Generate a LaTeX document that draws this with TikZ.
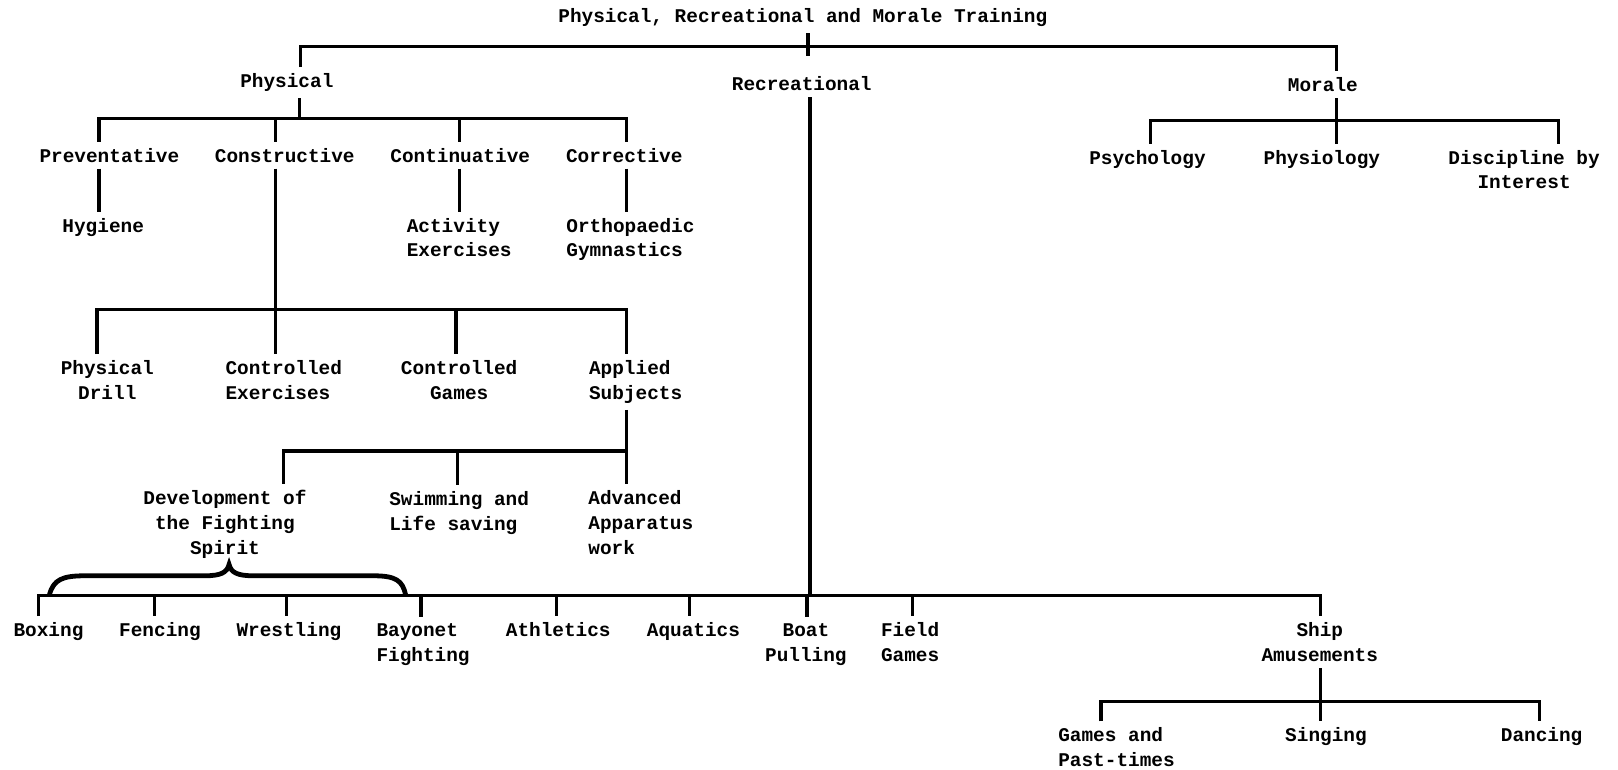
\documentclass[tikz,border=0pt]{standalone}
\usepackage{fontspec}
\newfontfamily\typew{Liberation Mono}
\begin{document}
\begin{tikzpicture}[x=0.516pt,y=-0.516pt,
  lbl/.style={font=\typew\bfseries\fontsize{9.7}{12.4}\selectfont, anchor=base,
              inner xsep=0pt, inner ysep=3pt, align=center},
  lbll/.style={lbl, align=left},
  link/.style={line width=1.6pt},
  bracepath/.style={line width=2.4pt, line cap=round}]
\useasboundingbox (0,0) rectangle (1568,746);

% ---- text nodes (anchor at baseline of the last line) ----
\node[lbl] (title) at (778,22) {Physical, Recreational and Morale Training};
\node[lbl] (phys) at (278,85) {Physical};
\node[lbl] (rec)  at (777,88) {Recreational};
\node[lbl] (mor)  at (1282,89) {Morale};

\node[lbl] (pre) at (106,157) {Preventative};
\node[lbl] (con) at (276,157) {Constructive};
\node[lbl] (cnt) at (446,157) {Continuative};
\node[lbl] (cor) at (605,157) {Corrective};

\node[lbl]  (hyg) at (100,225) {Hygiene};
\node[lbll] (act) at (445,249) {Activity\\Exercises};
\node[lbll] (ort) at (611,249) {Orthopaedic\\Gymnastics};

\node[lbl]  (pd) at (104,387) {Physical\\Drill};
\node[lbll] (ce) at (275,387) {Controlled\\Exercises};
\node[lbl]  (cg) at (445,387) {Controlled\\Games};
\node[lbll] (as) at (616,387) {Applied\\Subjects};

\node[lbl]  (dev)  at (218,537) {Development of\\the Fighting\\Spirit};
\node[lbll] (swim) at (445,514) {Swimming and\\Life saving};
\node[lbll] (adv)  at (621,537) {Advanced\\Apparatus\\work};

\node[lbl]  (box)   at (47,617)  {Boxing};
\node[lbl]  (fen)   at (155,617) {Fencing};
\node[lbl]  (wre)   at (280,617) {Wrestling};
\node[lbll] (bay)   at (410,641) {Bayonet\\Fighting};
\node[lbl]  (ath)   at (541,617) {Athletics};
\node[lbl]  (aqu)   at (672,617) {Aquatics};
\node[lbl]  (boat)  at (781,641) {Boat\\Pulling};
\node[lbll] (field) at (882,641) {Field\\Games};
\node[lbl]  (ship)  at (1279,641) {Ship\\Amusements};

\node[lbll] (gam)  at (1082,743) {Games and\\Past-times};
\node[lbl]  (sing) at (1285,719) {Singing};
\node[lbl]  (danc) at (1494,719) {Dancing};

\node[lbl] (psy) at (1112,159) {Psychology};
\node[lbl] (phy) at (1281,159) {Physiology};
\node[lbl] (dis) at (1477,183) {Discipline by\\Interest};

% ---- junction points of the bars ----
\coordinate (tb)  at (783,45);
\coordinate (tbL) at (291,45);
\coordinate (tbR) at (1295,45);

\coordinate (pb)  at (290,115);
\coordinate (pb1) at (96,115);
\coordinate (pb2) at (267,115);
\coordinate (pb3) at (445,115);
\coordinate (pb4) at (607,115);

\coordinate (cb1) at (94,300);
\coordinate (cb2) at (267,300);
\coordinate (cb3) at (442,300);
\coordinate (cb4) at (607,300);

\coordinate (ab1) at (275,437);
\coordinate (ab2) at (443,437);
\coordinate (ab3) at (607,437);

\coordinate (rb)  at (785,577);
\coordinate (r1)  at (37,577);
\coordinate (r2)  at (150,577);
\coordinate (r3)  at (278,577);
\coordinate (r4)  at (408,577);
\coordinate (r5)  at (539,577);
\coordinate (r6)  at (668,577);
\coordinate (r7)  at (782,577);
\coordinate (r8)  at (884,577);
\coordinate (r9)  at (1280,577);

\coordinate (sb)  at (1280,680);
\coordinate (sb1) at (1067,680);
\coordinate (sb3) at (1492,680);

\coordinate (mb)  at (1295,117);
\coordinate (mb1) at (1115,117);
\coordinate (mb3) at (1510,117);

% ---- top level ----
\draw[link] (title.south -| tb) -- ([yshift=-5pt]tb);
\draw[link] (phys.north -| tbL) -- (tbL) -- (tbR) -- (mor.north -| tbR);

% ---- physical ----
\draw[link] (phys.south -| pb) -- (pb);
\draw[link] (pre.north -| pb1) -- (pb1) -- (pb4) -- (cor.north -| pb4);
\draw[link] (pb2) -- (con.north -| pb2);
\draw[link] (pb3) -- (cnt.north -| pb3);
\draw[link] (pre.south -| pb1) -- (hyg.north -| pb1);
\draw[link] (cnt.south -| pb3) -- (act.north -| pb3);
\draw[link] (cor.south -| pb4) -- (ort.north -| pb4);

% ---- constructive ----
\draw[link] (con.south -| cb2) -- (cb2);
\draw[link] (pd.north -| cb1) -- (cb1) -- (cb4) -- (as.north -| cb4);
\draw[link] (cb2) -- (ce.north -| cb2);
\draw[link] (cb3) -- (cg.north -| cb3);

% ---- applied subjects ----
\draw[link] (as.south -| ab3) -- (ab3) -- (adv.north -| ab3);
\draw[link] (ab3) -- (ab1) -- (dev.north -| ab1);
\draw[link] (ab2) -- (swim.north -| ab2);

% ---- recreational ----
\draw[link] (rec.south -| rb) -- (rb);
\draw[link] (box.north -| r1) -- (r1) -- (r9) -- (ship.north -| r9);
\draw[link] (r2) -- (fen.north -| r2);
\draw[link] (r3) -- (wre.north -| r3);
\draw[link] (r4) -- (bay.north -| r4);
\draw[link] (r5) -- (ath.north -| r5);
\draw[link] (r6) -- (aqu.north -| r6);
\draw[link] (r7) -- (boat.north -| r7);
\draw[link] (r8) -- (field.north -| r8);

% ---- ship amusements ----
\draw[link] (ship.south -| sb) -- (sb) -- (sing.north -| sb);
\draw[link] (gam.north -| sb1) -- (sb1) -- (sb3) -- (danc.north -| sb3);

% ---- morale ----
\draw[link] (mor.south -| mb) -- (mb) -- (phy.north -| mb);
\draw[link] (psy.north -| mb1) -- (mb1) -- (mb3) -- (dis.north -| mb3);

% ---- brace grouping the fighting sports ----
\draw[bracepath] (48,576) .. controls (52,562) and (60,558) .. (82,558)
  -- (198,558) .. controls (214,558) and (220,555) .. (222,547)
  .. controls (224,555) and (230,558) .. (246,558)
  -- (362,558) .. controls (384,558) and (390,563) .. (393,576);
\end{tikzpicture}
\end{document}
